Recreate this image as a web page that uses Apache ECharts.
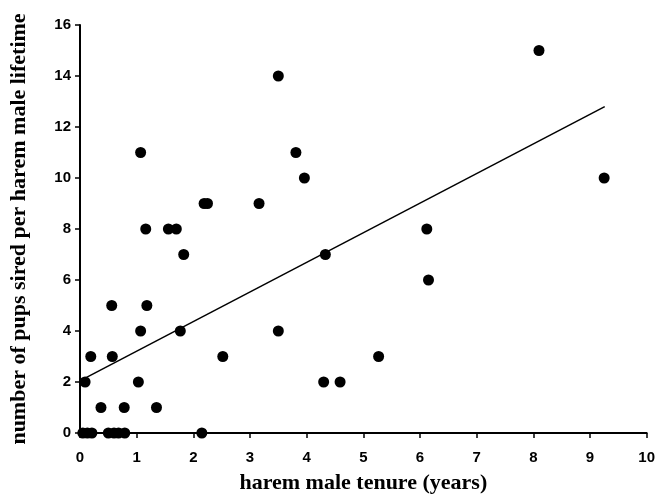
<!DOCTYPE html>
<html>
<head>
<meta charset="utf-8">
<script src="https://cdn.jsdelivr.net/npm/echarts@6/dist/echarts.min.js"></script>
<style>
html,body{margin:0;padding:0;background:#fff;}
#chart{width:658px;height:499px;}
</style>
</head>
<body>
<div id="chart"></div>
<script>
// Observed data: harem male tenure (years) vs pups sired
const tenureYears = [
  0.05, 0.13, 0.21, 0.50, 0.60, 0.68, 0.79, 2.15,
  0.37, 0.78, 1.35,
  0.09, 1.03, 4.30, 4.59,
  0.19, 0.57, 2.52, 5.27,
  1.07, 1.77, 3.50,
  0.56, 1.18,
  6.15,
  1.83, 4.33,
  1.16, 1.56, 1.70, 6.12,
  2.19, 2.25, 3.16,
  3.96, 9.25,
  1.07, 3.81,
  3.50,
  8.10
];
const pupsSired = [
  0, 0, 0, 0, 0, 0, 0, 0,
  1, 1, 1,
  2, 2, 2, 2,
  3, 3, 3, 3,
  4, 4, 4,
  5, 5,
  6,
  7, 7,
  8, 8, 8, 8,
  9, 9, 9,
  10, 10,
  11, 11,
  14,
  15
];
// Regression line end points
const fitX = [0.09, 9.26];
const fitY = [2.15, 12.8];

const xTicks = [0,1,2,3,4,5,6,7,8,9,10];
const yTicks = [0,2,4,6,8,10,12,14,16];

const points = tenureYears.map((x, i) => [x, pupsSired[i]]);
const fitLine = fitX.map((x, i) => [x, fitY[i]]);

const chart = echarts.init(document.getElementById('chart'), null, {renderer: 'canvas'});
const axisCommon = {
  axisLine: {show: true, onZero: false, lineStyle: {color: '#000', width: 2}},
  axisTick: {show: true, inside: false, length: 5, lineStyle: {color: '#000', width: 1.5}},
  splitLine: {show: false},
  axisLabel: {color: '#000', fontFamily: 'Liberation Sans, Arial, sans-serif', fontWeight: 'bold', fontSize: 15},
  nameTextStyle: {color: '#000', fontFamily: 'Liberation Serif, Times New Roman, serif', fontWeight: 'bold', fontSize: 22}
};
chart.setOption({
  animation: false,
  backgroundColor: '#fff',
  grid: {left: 78, right: 9, top: 25, bottom: 62, containLabel: false},
  xAxis: Object.assign({}, axisCommon, {
    type: 'value', min: 0, max: 10, interval: 1,
    name: 'harem male tenure (years)', nameLocation: 'middle', nameGap: 39,
    axisLabel: Object.assign({}, axisCommon.axisLabel, {margin: 17})
  }),
  yAxis: Object.assign({}, axisCommon, {
    type: 'value', min: 0, max: 16, interval: 2,
    name: 'number of pups sired per harem male lifetime', nameLocation: 'middle', nameGap: 50,
    axisLabel: Object.assign({}, axisCommon.axisLabel, {margin: 9})
  }),
  series: [
    {
      type: 'line', data: fitLine, symbol: 'none', silent: true,
      lineStyle: {color: '#000', width: 1.5}, z: 2
    },
    {
      type: 'scatter', data: points, symbol: 'circle', symbolSize: 11,
      itemStyle: {color: '#000', opacity: 1}, z: 3
    }
  ]
});
</script>
</body>
</html>
